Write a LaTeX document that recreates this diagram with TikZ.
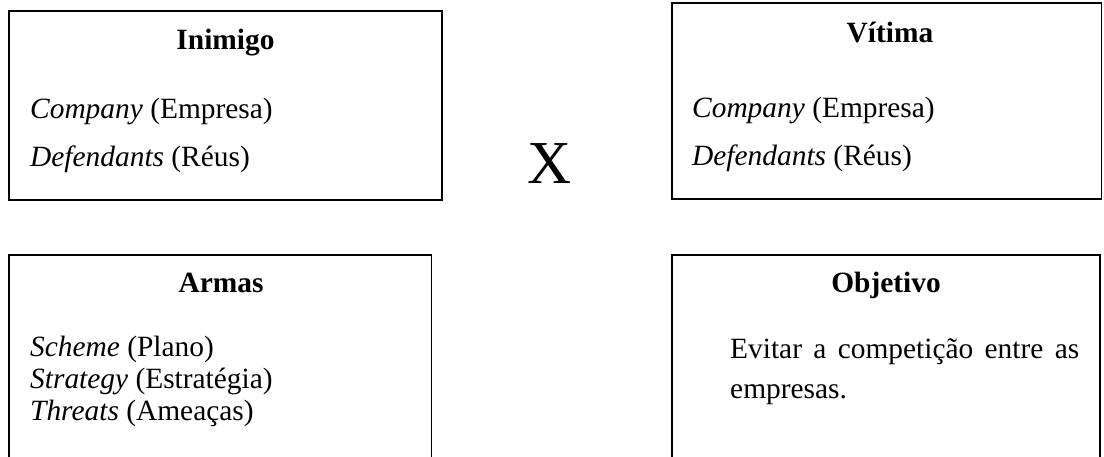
\documentclass[tikz,border=0pt]{standalone}
\usepackage{fontspec}
\setmainfont{Liberation Serif}
\begin{document}
\begin{tikzpicture}[x=1pt,y=-1pt,
  box/.style={draw=black, line width=1.6pt, fill=none},
  txt/.style={inner sep=0pt, anchor=base west, font=\fontsize{29.4}{33}\selectfont},
  head/.style={inner sep=0pt, anchor=base, font=\fontsize{29.4}{33}\selectfont\bfseries}]
\clip (0,0) rectangle (1104,456);
\fill[white] (0,0) rectangle (1104,456);
% boxes
\draw[box] (9,11) rectangle (442,200);
\draw[box] (672,3) rectangle (1101.5,199);
\draw[box] (9,255) rectangle (431.5,480);
\draw[box] (672,255) rectangle (1100,480);
% Inimigo
\node[head] (h1) at (225.5,49) {Inimigo};
\node[txt] (a1) at (30,118) {\textit{Company} (Empresa)};
\node[txt] (a2) at (30,166) {\textit{Defendants} (Réus)};
% Vitima
\node[head] (h2) at (890,42) {Vítima};
\node[txt] (b1) at (692,117) {\textit{Company} (Empresa)};
\node[txt] (b2) at (692,165) {\textit{Defendants} (Réus)};
% X
\node[inner sep=0pt, anchor=base, font=\fontsize{61}{61}\selectfont] (x) at (549.5,183) {X};
% Armas
\node[head] (h3) at (221,292) {Armas};
\node[txt] (c1) at (30,356) {\textit{Scheme} (Plano)};
\node[txt] (c2) at (30,388) {\textit{Strategy} (Estratégia)};
\node[txt] (c3) at (30,420) {\textit{Threats} (Ameaças)};
% Objetivo
\node[head] (h4) at (886,292) {Objetivo};
\node[txt] (d1) at (730,358) {\makebox[349pt][s]{Evitar a competição entre as}};
\node[txt] (d2) at (730,398) {empresas.};
\end{tikzpicture}
\end{document}
